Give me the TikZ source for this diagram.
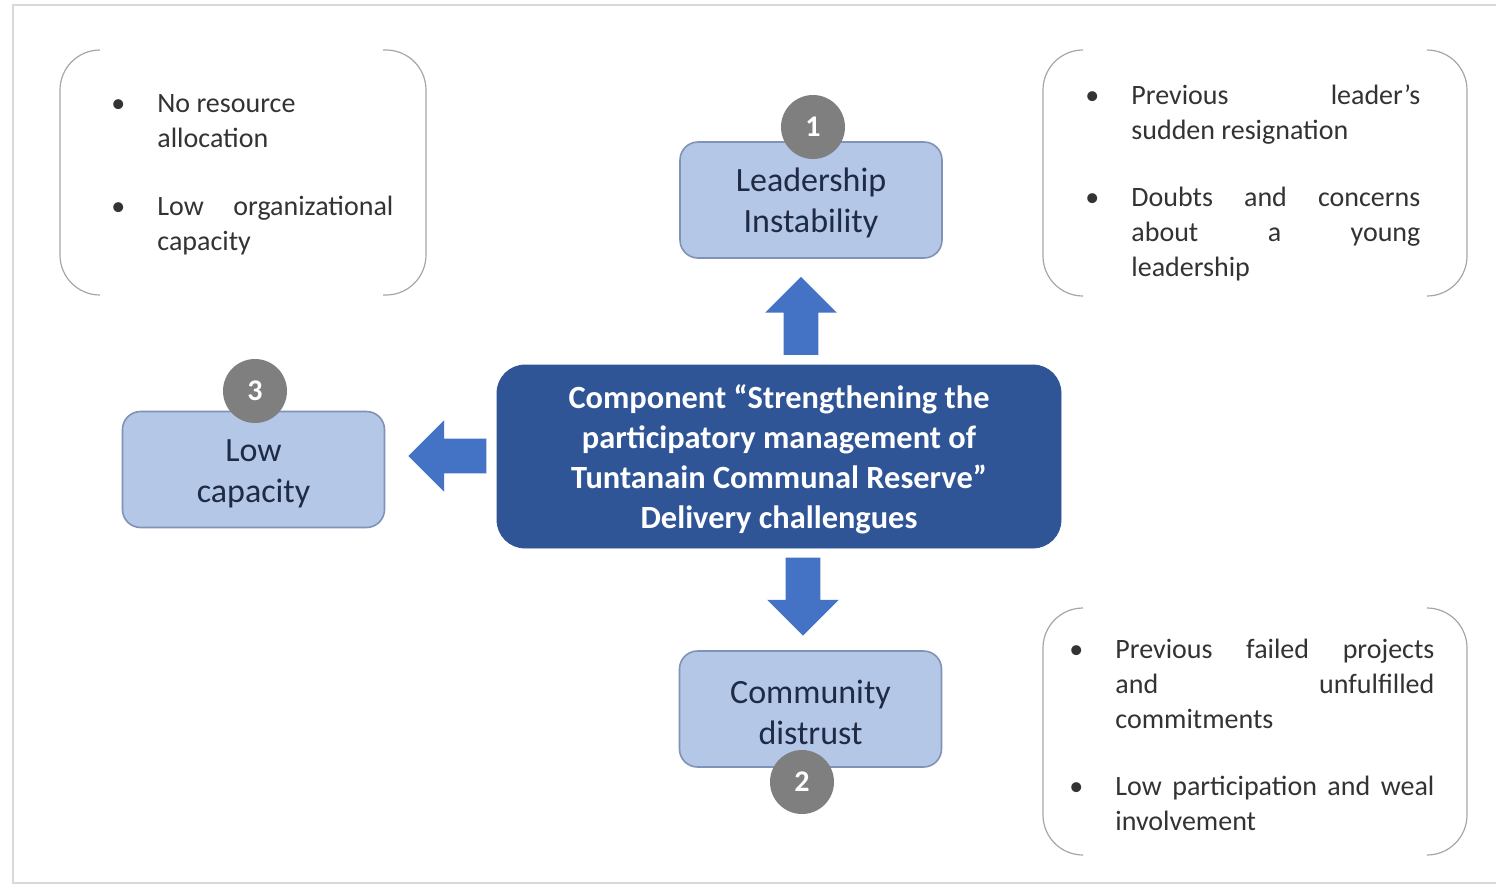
\documentclass[tikz,border=0pt]{standalone}
\usepackage{fontspec}
\setmainfont{Carlito}
\usetikzlibrary{shapes.arrows}
\definecolor{lightbox}{HTML}{B4C7E7}
\definecolor{lightborder}{HTML}{7F93B8}
\definecolor{darkbox}{HTML}{2F5597}
\definecolor{arrowblue}{HTML}{4472C4}
\definecolor{numgray}{HTML}{7F7F7F}
\definecolor{boxtext}{HTML}{1F2A44}
\definecolor{listtextcol}{HTML}{333333}
\definecolor{bracketgray}{HTML}{A6A6A6}
\definecolor{framegray}{HTML}{D9D9D9}
\newcommand\bul{\llap{\textbullet\hspace{16pt}}}
\begin{document}
\begin{tikzpicture}[x=0.5pt,y=-0.5pt,
 challenge/.style={draw=lightborder, line width=0.8pt, fill=lightbox, rounded corners=9pt, minimum width=131pt, minimum height=58pt, align=center, text=boxtext, font=\fontsize{17}{20.5}\selectfont, inner sep=0pt},
 core/.style={draw=darkbox, fill=darkbox, rounded corners=14pt, minimum width=282pt, minimum height=91.5pt, align=center, text=white, font=\bfseries\fontsize{16.2}{20}\selectfont, inner sep=0pt},
 numbadge/.style={circle, fill=numgray, minimum size=32pt, inner sep=0pt, text=white, font=\bfseries\fontsize{15}{15}\selectfont},
 blockarrow/.style={single arrow, fill=arrowblue, draw=none, inner sep=8.5pt, single arrow head extend=9.25pt, single arrow tip angle=90, minimum height=39pt},
 bracket/.style={draw=bracketgray, line width=0.6pt, rounded corners=20pt},
 listnode/.style={inner sep=0pt, anchor=base west, text=listtextcol, font=\fontsize{14}{17.5}\selectfont},
]
\useasboundingbox (0,0) rectangle (1496,885);
\fill[white] (0,0) rectangle (1496,885);
\draw[framegray, line width=0.6pt] (1496,5) -- (13,5) -- (13,883) -- (1496,883);

% bracket frames
\draw[bracket] (100,50) -- (60,50) -- (60,295) -- (100,295);
\draw[bracket] (383,50) -- (426,50) -- (426,295) -- (383,295);
\draw[bracket] (1083,50) -- (1043,50) -- (1043,296) -- (1083,296);
\draw[bracket] (1427,50) -- (1467,50) -- (1467,296) -- (1427,296);
\draw[bracket] (1083,608) -- (1043,608) -- (1043,855) -- (1083,855);
\draw[bracket] (1427,608) -- (1467,608) -- (1467,855) -- (1427,855);

% lists
\node[listnode] (listTL) at (157,112) {\vtop{\hsize=118pt\noindent
\bul No resource\\
allocation\\[16.5pt]
\bul\makebox[118pt][s]{Low organizational}\\
capacity}};
\node[listnode] (listTR) at (1131,104) {\vtop{\hsize=144.5pt\noindent
\bul\makebox[144.5pt][s]{Previous leader’s}\\
sudden resignation\\[16pt]
\bul\makebox[144.5pt][s]{Doubts and concerns}\\
\makebox[144.5pt][s]{about a young}\\
leadership}};
\node[listnode] (listBR) at (1115,658) {\vtop{\hsize=159.5pt\noindent
\bul\makebox[159.5pt][s]{Previous failed projects}\\
\makebox[159.5pt][s]{and unfulfilled}\\
commitments\\[16pt]
\bul\makebox[159.5pt][s]{Low participation and weal}\\
involvement}};

% main boxes
\node[core] (core) at (779,456.5) {\rule{0pt}{15pt}Component “Strengthening the\\participatory management of\\Tuntanain Communal Reserve”\\Delivery challengues};
\node[challenge] (lead) at (811,200) {\rule{0pt}{15pt}Leadership\\Instability};
\node[challenge] (comm) at (810.5,709) {\rule{0pt}{15pt}Community\\distrust};
\node[challenge] (low) at (253.5,469.5) {\rule{0pt}{15pt}Low\\capacity};

% badges
\node[numbadge] (n1) at (813,127) {1};
\node[numbadge] (n2) at (802,782) {2};
\node[numbadge] (n3) at (255,391) {3};

% block arrows
\node[blockarrow, shape border rotate=90] (aup) at (801,324.5) {};
\node[blockarrow, shape border rotate=270] (adown) at (803,588) {};
\node[blockarrow, shape border rotate=180] (aleft) at (456,456) {};
\end{tikzpicture}
\end{document}
